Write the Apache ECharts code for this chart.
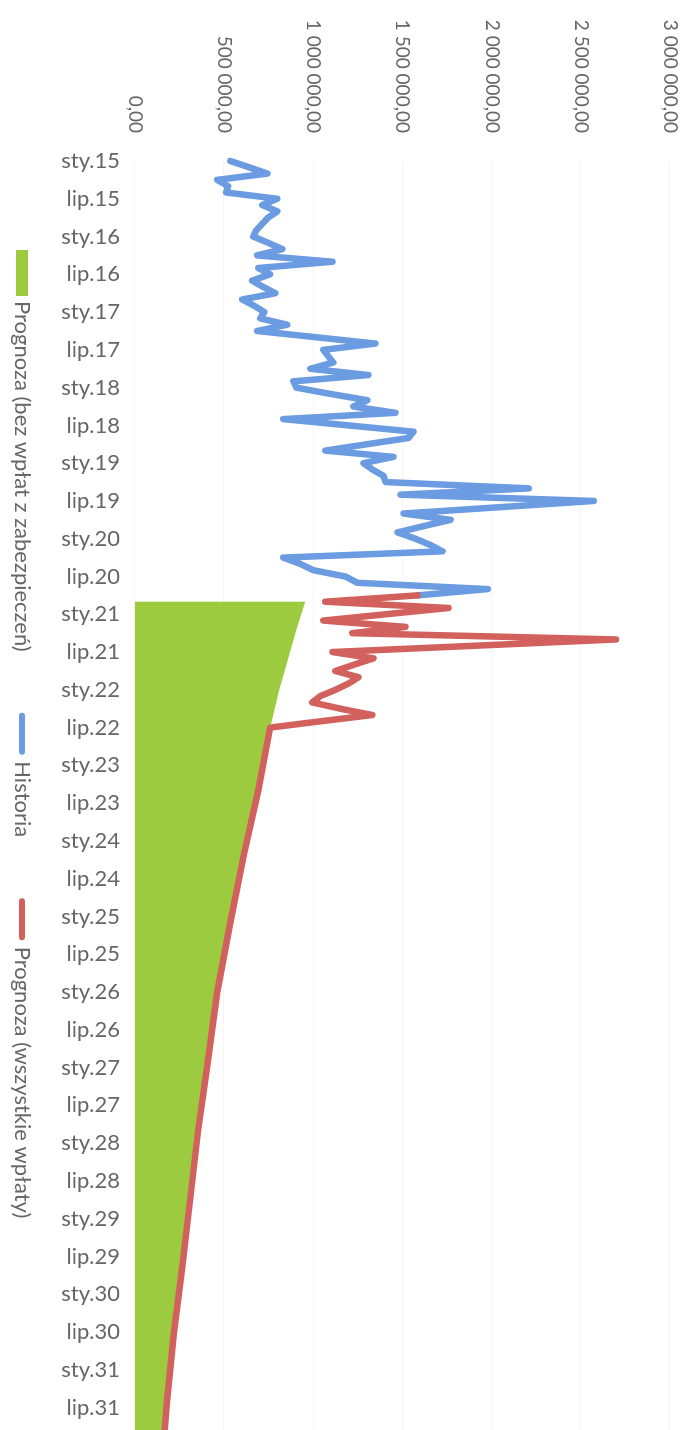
<!DOCTYPE html>
<html>
<head>
<meta charset="utf-8">
<script src="https://cdn.jsdelivr.net/npm/echarts@6/dist/echarts.min.js"></script>
<style>
  html, body {
    margin: 0;
    padding: 0;
    width: 689px;
    height: 1430px;
    overflow: hidden;
    background: #fff;
  }
  /* chart is drawn landscape and turned 90deg clockwise, like the scan */
  #chart {
    position: absolute;
    left: 0;
    top: 0;
    width: 1460px;
    height: 689px;
    transform-origin: 0 0;
    transform: translate(689px, 0) rotate(90deg);
  }
</style>
</head>
<body>
<div id="chart"></div>
<script>
  // month names, categories are monthly from sty.15 to gru.31
  let monthNames = ['sty', 'lut', 'mar', 'kwi', 'maj', 'cze', 'lip', 'sie', 'wrz', 'paź', 'lis', 'gru']
  let years = ['15', '16', '17', '18', '19', '20', '21', '22', '23', '24', '25', '26', '27', '28', '29', '30', '31']
  let categories = []
  years.forEach(function (y) {
    monthNames.forEach(function (m) {
      categories.push(m + '.' + y)
    })
  })

  // Historia: one value per month, sty.15 .. paź.20
  let historiaValues = [
    534000, 640000, 742000, 461000, 522000, 511000, 798000, 713000, 798000, 747000,
    713000, 680000, 663000, 747000, 826000, 685000, 1107000, 691000, 758000, 657000,
    719000, 787000, 601000, 669000, 725000, 702000, 854000, 685000, 1017000, 1348000,
    1056000, 1084000, 1112000, 983000, 1309000, 888000, 905000, 1096000, 1303000, 1225000,
    1461000, 831000, 1197000, 1562000, 1534000, 1298000, 1067000, 1449000, 1281000, 1331000,
    1393000, 1405000, 2208000, 1489000, 2573000, 2039000, 1506000, 1770000, 1618000, 1472000,
    1573000, 1657000, 1725000, 831000, 927000, 1000000, 1180000, 1247000, 1978000, 1584000
  ]

  // Prognoza (wszystkie wpłaty): month index -> value
  let wszystkieMonths = [69, 70, 71, 72, 73, 74, 75, 76, 77, 78, 79, 80, 81, 82, 83, 84, 85, 86, 87, 88, 89, 90,
    100, 110, 121, 132, 144, 154, 165, 176, 186, 197, 203]
  let wszystkieValues = [1584000, 1067000, 1758000, 1405000, 1056000, 1517000, 1219000, 2697000, 1905000, 1107000,
    1337000, 1230000, 1124000, 1253000, 1197000, 1124000, 1039000, 994000, 1152000, 1331000, 1039000, 758000,
    691000, 612000, 534000, 461000, 404000, 354000, 309000, 264000, 219000, 180000, 163000]

  // Prognoza (bez wpłat z zabezpieczeń): month index -> value
  let bezMonths = [70, 74, 79, 84, 90, 100, 110, 121, 132, 144, 154, 165, 176, 186, 197, 203]
  let bezValues = [955000, 910000, 860000, 809000, 758000, 691000, 612000, 534000, 461000, 404000,
    354000, 309000, 264000, 219000, 180000, 163000]

  let valueTicks = { min: 0, max: 3000000, interval: 500000 }

  function pairs (months, values) {
    return months.map(function (m, i) { return [m, values[i]] })
  }

  function formatValue (v) {
    return String(v).replace(/\B(?=(\d{3})+(?!\d))/g, ' ') + ',00'
  }

  let fontName = 'Lato, "Noto Sans", sans-serif'
  let textColor = '#666666'
  let blue = '#6b9be0'
  let red = '#d2605c'
  let green = '#9dcb3f'
  // thick rounded bar used as legend key for the two lines
  let lineIcon = 'path://M0,0 M0,12 M4,3 L40,3 A3,3 0 0 1 40,9 L4,9 A3,3 0 0 1 4,3 Z'

  let charts = echarts.init(document.getElementById('chart'))
  charts.setOption({
    animation: false,
    backgroundColor: '#ffffff',
    grid: {
      left: 161,
      right: 21,
      top: 19,
      bottom: 135
    },
    legend: {
      left: 245,
      top: 651,
      itemWidth: 46,
      itemHeight: 12,
      itemGap: 60,
      textStyle: {
        fontFamily: fontName,
        fontSize: 22,
        color: textColor
      },
      data: [
        { name: 'Prognoza (bez wpłat z zabezpieczeń)', icon: 'rect', itemStyle: { color: green } },
        { name: 'Historia', icon: lineIcon, itemStyle: { color: blue } },
        { name: 'Prognoza (wszystkie wpłaty)', icon: lineIcon, itemStyle: { color: red } }
      ]
    },
    xAxis: {
      type: 'category',
      data: categories,
      boundaryGap: false,
      axisLine: { show: false },
      axisTick: { show: false },
      axisLabel: {
        interval: 5,
        rotate: 90,
        margin: 15,
        fontFamily: fontName,
        fontSize: 22,
        color: textColor
      }
    },
    yAxis: {
      type: 'value',
      min: valueTicks.min,
      max: valueTicks.max,
      interval: valueTicks.interval,
      axisLine: { show: false },
      axisTick: { show: false },
      splitLine: {
        lineStyle: { color: '#f5f5f5', width: 1 }
      },
      axisLabel: {
        margin: 28,
        fontFamily: fontName,
        fontSize: 19,
        color: textColor,
        formatter: formatValue
      }
    },
    series: [
      {
        name: 'Historia',
        type: 'line',
        data: historiaValues,
        showSymbol: false,
        symbol: 'none',
        color: blue,
        lineStyle: { width: 6.5, color: blue, join: 'round', cap: 'round' }
      },
      {
        name: 'Prognoza (wszystkie wpłaty)',
        type: 'line',
        data: pairs(wszystkieMonths, wszystkieValues),
        showSymbol: false,
        symbol: 'none',
        color: red,
        lineStyle: { width: 6.5, color: red, join: 'round', cap: 'round' }
      },
      {
        // area is drawn over the red line, as in the original
        name: 'Prognoza (bez wpłat z zabezpieczeń)',
        type: 'line',
        z: 3,
        data: pairs(bezMonths, bezValues),
        showSymbol: false,
        symbol: 'none',
        color: green,
        itemStyle: { color: green },
        lineStyle: { width: 0 },
        areaStyle: { color: green, opacity: 1 }
      }
    ]
  })
</script>
</body>
</html>
